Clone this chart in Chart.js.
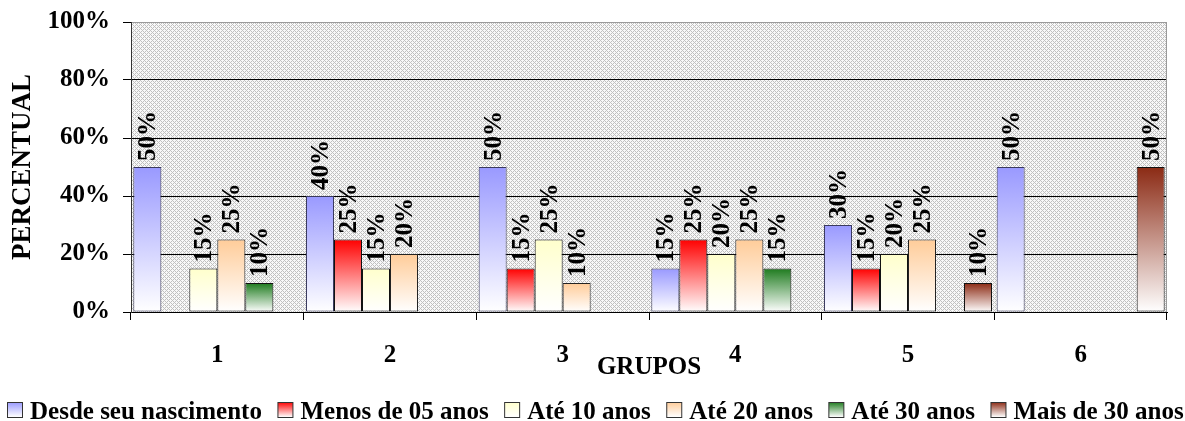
<!DOCTYPE html>
<html><head><meta charset="utf-8">
<script src="https://cdn.jsdelivr.net/npm/chart.js@4.4.1/dist/chart.umd.min.js"></script>
<style>html,body{margin:0;padding:0;background:#fff;} #wrap{width:1185px;height:421px;position:relative;} canvas{display:block;}</style>
</head><body><div id="wrap"><canvas id="c" width="1185" height="421" style="width:1185px;height:421px"></canvas></div>
<script>
const categories = ['1', '2', '3', '4', '5', '6'];
const seriesNames = ['Desde seu nascimento', 'Menos de 05 anos', 'Até 10 anos', 'Até 20 anos', 'Até 30 anos', 'Mais de 30 anos'];
const desde = [50, 40, 50, 15, 30, 50];
const menos05 = [null, 25, 15, 25, 15, null];
const ate10 = [15, 15, 25, 20, 20, null];
const ate20 = [25, 20, 10, 25, 25, null];
const ate30 = [10, null, null, 15, null, null];
const mais30 = [null, null, null, null, 10, 50];
const yTicks = [0, 20, 40, 60, 80, 100];
const colors = ['#9999FF', '#FF0000', '#FFFFCC', '#FFCC99', '#1E7B1E', '#8B2A14'];
const borders = ['#3a3a5e', '#111111', '#111111', '#222222', '#111111', '#111111'];
const seriesData = [desde, menos05, ate10, ate20, ate30, mais30];

const FAMILY = '"Liberation Serif", "Times New Roman", serif';
Chart.defaults.font.family = FAMILY;
Chart.defaults.color = '#000';

function grad(color) {
  return (ctx) => {
    const chart = ctx.chart;
    if (!chart.chartArea || ctx.type !== 'data' || ctx.raw == null) return color;
    const y = chart.scales.y;
    const top = y.getPixelForValue(ctx.raw);
    const bot = y.getPixelForValue(0);
    const g = chart.ctx.createLinearGradient(0, top, 0, bot);
    g.addColorStop(0, color);
    g.addColorStop(1, '#ffffff');
    return g;
  };
}

function makePattern(ctx) {
  const p = document.createElement('canvas');
  p.width = 4; p.height = 4;
  const g = p.getContext('2d');
  g.fillStyle = '#f8f8f8'; g.fillRect(0, 0, 4, 4);
  g.fillStyle = '#c0c0c0';
  [[0,0],[1,1],[2,2],[3,3],[1,3],[3,1]].forEach(([x, y]) => g.fillRect(x, y, 1, 1));
  return ctx.createPattern(p, 'repeat');
}

const bgPlugin = {
  id: 'bg',
  beforeDraw(chart) {
    const {ctx, chartArea: a} = chart;
    ctx.save();
    ctx.fillStyle = makePattern(ctx);
    ctx.fillRect(a.left, a.top, a.right - a.left, a.bottom - a.top);
    ctx.restore();
  },
  beforeDatasetsDraw(chart) {
    const {ctx, chartArea: a} = chart;
    ctx.save();
    ctx.strokeStyle = '#9a9a9a';
    ctx.lineWidth = 1;
    ctx.beginPath();
    ctx.moveTo(Math.round(a.right) - 0.5, a.top);
    ctx.lineTo(Math.round(a.right) - 0.5, a.bottom);
    ctx.stroke();
    ctx.restore();
  }
};

const labelPlugin = {
  id: 'vlabels',
  afterDatasetsDraw(chart) {
    const ctx = chart.ctx;
    chart.data.datasets.forEach((ds, i) => {
      const meta = chart.getDatasetMeta(i);
      meta.data.forEach((el, j) => {
        const v = ds.data[j];
        if (v == null) return;
        ctx.save();
        ctx.translate(el.x, el.y - 6);
        ctx.rotate(-Math.PI / 2);
        ctx.font = 'bold 25px ' + FAMILY;
        ctx.fillStyle = '#000';
        ctx.textAlign = 'left';
        ctx.textBaseline = 'alphabetic';
        ctx.fillText(v + '%', 0, 8);
        ctx.restore();
      });
    });
  }
};

const legendPlugin = {
  id: 'customLegend',
  afterDraw(chart) {
    const ctx = chart.ctx;
    ctx.save();
    ctx.font = 'bold 25px ' + FAMILY;
    let x = 7;
    const boxTop = 402, box = 15, baseline = 419;
    seriesNames.forEach((name, i) => {
      const g = ctx.createLinearGradient(0, boxTop, 0, boxTop + box);
      g.addColorStop(0, colors[i]);
      g.addColorStop(1, '#ffffff');
      ctx.fillStyle = g;
      ctx.fillRect(x + 0.5, boxTop + 0.5, box, box);
      ctx.strokeStyle = '#333';
      ctx.lineWidth = 1;
      ctx.strokeRect(x + 0.5, boxTop + 0.5, box, box);
      x += box + 8;
      ctx.fillStyle = '#000';
      ctx.textAlign = 'left';
      ctx.textBaseline = 'alphabetic';
      ctx.fillText(name, x, baseline);
      x += ctx.measureText(name).width + 15.5;
    });
    ctx.restore();
  }
};

new Chart(document.getElementById('c'), {
  type: 'bar',
  data: {
    labels: categories,
    datasets: seriesNames.map((name, i) => ({
      label: name,
      data: seriesData[i],
      backgroundColor: grad(colors[i]),
      borderColor: borders[i],
      borderWidth: 1,
      borderSkipped: false,
      categoryPercentage: 0.973,
      barPercentage: 1.0
    }))
  },
  options: {
    responsive: false,
    animation: false,
    devicePixelRatio: 1,
    layout: {padding: {left: 0, right: 18, top: 22, bottom: 0}},
    plugins: {legend: {display: false}, tooltip: {enabled: false}},
    scales: {
      x: {
        grid: {display: true, drawOnChartArea: false, color: '#000', tickLength: 8, offset: true},
        border: {color: '#000'},
        ticks: {font: {size: 25, weight: 'bold'}, padding: 21, color: '#000'},
        title: {display: true, text: 'GRUPOS', font: {size: 25, weight: 'bold'}, color: '#000', padding: {top: 0, bottom: 38}},
        afterFit: (s) => { s.height = 109; s.paddingLeft = 0; s.paddingRight = 0; }
      },
      y: {
        min: 0, max: 100,
        afterBuildTicks: (s) => { s.ticks = yTicks.map(v => ({value: v})); },
        grid: {color: (c) => (c.tick && c.tick.value === 100) ? '#9a9a9a' : '#000', tickColor: '#000', tickLength: 8},
        border: {color: '#333'},
        ticks: {font: {size: 25, weight: 'bold'}, padding: 13, color: '#000', callback: (v) => v + '%'},
        title: {display: true, text: 'PERCENTUAL', font: {size: 27, weight: 'bold'}, color: '#000', padding: {top: 7, bottom: 0}},
        afterFit: (s) => { s.width = 131; s.paddingTop = 0; s.paddingBottom = 0; }
      }
    }
  },
  plugins: [bgPlugin, labelPlugin, legendPlugin]
});
</script></body></html>
